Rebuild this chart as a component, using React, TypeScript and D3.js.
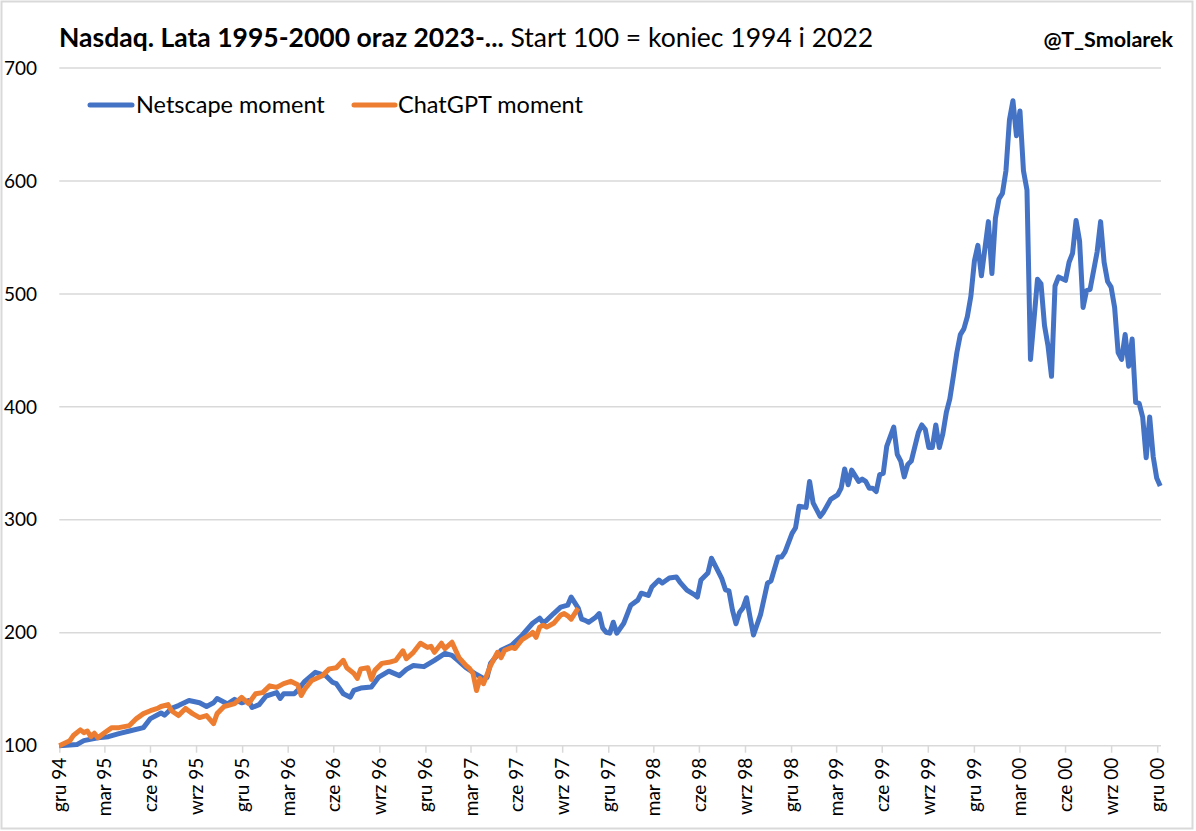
import * as d3 from 'd3';
import React from 'react';

// Weekly closes, rebased: start 100 = end of 1994 (Netscape) and end of 2022 (ChatGPT)
const netscapeWeeks = [
  0, 5, 7, 11, 14, 17, 20, 24, 26, 29, 30, 32, 34, 37, 40, 42, 44, 45, 48, 50, 52, 54, 55, 57, 59, 62, 63, 64, 67, 68,
  70, 73, 76, 78, 79, 81, 83, 84, 86, 89, 91, 94, 97, 99, 101, 104, 107, 110, 112, 114, 116, 119, 121, 122, 123, 126,
  129, 132, 135, 137, 138, 139, 141, 143, 145, 146, 148, 149, 150, 151, 153, 154, 155, 156, 157, 158, 159, 161, 163,
  165, 166, 168, 169, 171, 172, 174, 176, 177, 179, 181, 182, 183, 185, 186, 188, 189, 190, 191, 192, 193, 194, 195,
  196, 197, 198, 200, 202, 203, 205, 206, 207, 209, 210, 211, 213, 214, 215, 217, 218, 220, 222, 223, 224, 225, 226,
  228, 229, 230, 231, 232, 233, 234, 235, 236, 238, 239, 240, 241, 242, 243, 245, 246, 247, 248, 249, 250, 251, 252,
  253, 254, 255, 256, 257, 258, 259, 260, 261, 262, 263, 265, 266, 267, 268, 269, 270, 271, 272, 273, 274, 275, 276,
  277, 279, 280, 281, 282, 283, 284, 285, 287, 288, 289, 290, 291, 292, 293, 294, 296, 297, 298, 299, 300, 301, 302,
  303, 304, 305, 306, 307, 308, 309, 310, 311, 312, 313, 314,
];
const netscapeValues = [
  100, 101, 104.5, 107, 108, 110.7, 113, 116, 124, 129, 127, 133, 135.5, 140, 138, 134.7, 138, 141.8, 137, 141, 138,
  140, 133.8, 136.4, 144, 147, 141.8, 146, 146, 149, 157, 165, 162, 156, 155, 146, 143, 149, 151, 152, 160.4, 166, 162,
  167.6, 171, 170, 175.6, 181.8, 180, 174.7, 169, 163, 159.6, 160.4, 172.9, 184.4, 188.9, 197.8, 208.4, 212.9, 209,
  211, 217, 222.7, 224.4, 231.6, 221.8, 212, 211, 209.3, 213.8, 217, 204, 200.4, 199.6, 209.3, 199.6, 208.4, 224.4,
  228.9, 235, 233, 240.4, 246.7, 244, 248.4, 249.3, 244.9, 237.8, 234, 231.6, 246.7, 252.9, 266, 253.8, 247.6, 238,
  237, 220, 208, 218, 222, 231, 214, 198, 216, 244, 246, 267, 267, 271.6, 288, 293, 312, 311, 334, 315, 303, 307, 318,
  322, 328, 345, 331, 344, 334, 336, 334, 328, 328, 325, 340, 341, 365, 382, 358, 352, 338, 349, 352, 377, 384, 380,
  364, 364, 384, 364, 376, 395, 407, 427, 448, 464, 469, 480, 498, 529, 543, 516, 564, 518, 567, 584, 589, 609, 654,
  671, 640, 662, 609, 592, 442, 513, 509, 472, 454, 427, 507, 515, 512, 528, 536, 565, 547, 488, 503, 504, 537, 564,
  528, 511, 506, 488, 448, 442, 464, 436, 460, 404, 403, 391, 355, 391, 356, 337, 330,
];

const chatgptWeeks = [
  0, 3, 4, 6, 7, 8, 9, 10, 11, 13, 15, 17, 20, 22, 24, 26, 28, 29, 31, 32, 34, 36, 38, 40, 42, 44, 45, 47, 50, 52, 54,
  56, 58, 60, 62, 64, 66, 68, 69, 70, 72, 75, 77, 79, 81, 82, 84, 85, 86, 88, 89, 90, 92, 94, 96, 98, 99, 101, 103,
  105, 106, 107, 109, 110, 112, 114, 116, 117, 118, 119, 120, 121, 123, 125, 126, 127, 129, 130, 132, 134, 135, 136,
  137, 138, 139, 141, 143, 144, 145, 146, 148,
];
const chatgptValues = [
  100, 104.4, 109, 114, 111.6, 113, 108, 111, 107, 111.6, 116, 116, 117.8, 124, 128.4, 131, 133, 134.7, 136.4, 131,
  126.7, 133, 128.4, 124.9, 126.7, 119.6, 128.4, 134.7, 137.3, 142.7, 137.3, 146, 147, 153, 151.6, 155, 157, 154,
  144.4, 150, 157.8, 162, 168, 169, 175.6, 169, 164, 159.6, 168, 169, 158.7, 166.7, 172.9, 173.8, 175.6, 184, 177,
  182.7, 190.7, 187, 188, 182.7, 190.7, 186, 191.6, 178, 171, 168.4, 164, 148.9, 159.6, 155, 171, 182.7, 178, 184.4,
  187, 186, 194, 197.8, 200.4, 196, 205, 206.7, 205, 208.4, 215.6, 217, 215, 212, 221.8,
];

const xTickLabels = [
  'gru 94', 'mar 95', 'cze 95', 'wrz 95', 'gru 95', 'mar 96', 'cze 96', 'wrz 96', 'gru 96', 'mar 97', 'cze 97',
  'wrz 97', 'gru 97', 'mar 98', 'cze 98', 'wrz 98', 'gru 98', 'mar 99', 'cze 99', 'wrz 99', 'gru 99', 'mar 00',
  'cze 00', 'wrz 00', 'gru 00',
];
const yTicks = [100, 200, 300, 400, 500, 600, 700];

const startDate = new Date(1994, 11, 30);
const weekDate = (w: number) => d3.timeDay.offset(startDate, 7 * w);

const W = 1196;
const H = 831;
const FONT = 'Lato, "Open Sans", sans-serif';
const BLUE = '#4472C4';
const ORANGE = '#ED7D31';
const GRID = '#d9d9d9';

const App: React.FC = () => {
  const plotLeft = 59.3;
  const plotRight = 1161;

  const x = d3.scaleTime().domain([startDate, weekDate(313)]).range([plotLeft, 1156.7]);
  const y = d3.scaleLinear().domain([100, 700]).range([745.7, 68]);

  const line = d3
    .line<[Date, number]>()
    .x((d) => x(d[0]))
    .y((d) => y(d[1]));

  const netscape: [Date, number][] = netscapeWeeks.map((w, i) => [weekDate(w), netscapeValues[i]]);
  const chatgpt: [Date, number][] = chatgptWeeks.map((w, i) => [weekDate(w), chatgptValues[i]]);

  const tickDates = xTickLabels.map((_, k) => new Date(1995, 3 * k, 0));

  return (
    <svg
      width={W}
      height={H}
      style={{ position: 'absolute', left: 0, top: 0, background: '#fff' }}
      fontFamily={FONT}
    >
      <rect x={1.5} y={1.5} width={W - 5} height={H - 4} fill="#fff" stroke={GRID} strokeWidth={2} />

      <text x={59} y={47} fontSize={26.5} fill="#000">
        <tspan fontWeight="bold">Nasdaq. Lata 1995-2000 oraz 2023-...</tspan>
        <tspan> Start 100 = koniec 1994 i 2022</tspan>
      </text>
      <text x={1173} y={47} fontSize={21.5} fontWeight="bold" textAnchor="end" fill="#000">
        @T_Smolarek
      </text>

      {yTicks.map((t) => (
        <g key={`y-${t}`}>
          <line x1={plotLeft} x2={plotRight} y1={y(t)} y2={y(t)} stroke={GRID} strokeWidth={1.5} />
          <text x={37} y={y(t)} dy="0.35em" textAnchor="end" fontSize={19} fill="#000">
            {t}
          </text>
        </g>
      ))}

      {tickDates.map((d, i) => (
        <g key={`x-${i}`} transform={`translate(${x(d)},${y(100)})`}>
          <line y2={7} stroke={GRID} strokeWidth={1.5} />
          <text transform="translate(6.5,12) rotate(-90)" textAnchor="end" fontSize={19} fill="#000">
            {xTickLabels[i]}
          </text>
        </g>
      ))}

      <path d={line(netscape) ?? ''} fill="none" stroke={BLUE} strokeWidth={5} strokeLinejoin="round" />
      <path d={line(chatgpt) ?? ''} fill="none" stroke={ORANGE} strokeWidth={5} strokeLinejoin="round" />

      <g fontSize={23.5}>
        <line x1={90} x2={132} y1={105} y2={105} stroke={BLUE} strokeWidth={5} strokeLinecap="round" />
        <text x={136} y={105} dy="0.35em" fill="#000">
          Netscape moment
        </text>
        <line x1={354} x2={395} y1={105} y2={105} stroke={ORANGE} strokeWidth={5} strokeLinecap="round" />
        <text x={398} y={105} dy="0.35em" fill="#000">
          ChatGPT moment
        </text>
      </g>
    </svg>
  );
};

export default App;
